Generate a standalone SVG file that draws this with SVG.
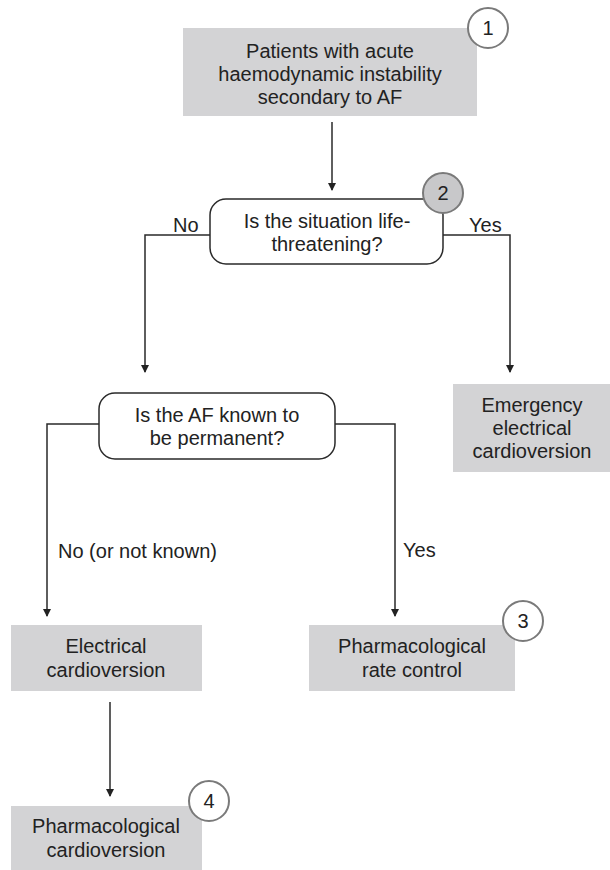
<svg xmlns="http://www.w3.org/2000/svg" width="610" height="870" viewBox="0 0 610 870">
<style>
.box{fill:#d3d3d5;stroke:none}
.dec{fill:#ffffff;stroke:#2a2a2a;stroke-width:1.5}
.t{font-family:"Liberation Sans",Arial,sans-serif;font-size:20px;fill:#222;text-anchor:middle}
.lbl{font-family:"Liberation Sans",Arial,sans-serif;font-size:20px;fill:#222}
.num{fill:#ffffff;stroke:#7a7a7a;stroke-width:2}
.numg{fill:#c8c8ca;stroke:#7a7a7a;stroke-width:2}
.c{fill:none;stroke:#2a2a2a;stroke-width:1.5}
</style>
<defs>
<marker id="ah" markerWidth="8" markerHeight="12" refX="7" refY="4" orient="auto" markerUnits="userSpaceOnUse" viewBox="0 0 8 8">
<path d="M0,0 L8,4 L0,8 z" fill="#222"/>
</marker>
</defs>
<rect width="610" height="870" fill="#ffffff"/>
<g id="connectors">
<path class="c" d="M332,122 V190" marker-end="url(#ah)"/>
<path class="c" d="M210,235 H145 V372" marker-end="url(#ah)"/>
<path class="c" d="M443,235 H510 V372" marker-end="url(#ah)"/>
<path class="c" d="M99,424 H47 V616" marker-end="url(#ah)"/>
<path class="c" d="M335,424 H395 V616" marker-end="url(#ah)"/>
<path class="c" d="M110,702 V796" marker-end="url(#ah)"/>
<text class="lbl" x="173" y="232">No</text>
<text class="lbl" x="469" y="232">Yes</text>
<text class="lbl" x="58" y="558">No (or not known)</text>
<text class="lbl" x="403" y="557">Yes</text>
</g>
<g id="n1">
<rect class="box" x="183" y="28" width="294" height="88"/>
<text class="t" x="330" y="58">Patients with acute</text>
<text class="t" x="330" y="81">haemodynamic instability</text>
<text class="t" x="330" y="104">secondary to AF</text>
<circle class="num" cx="488" cy="28" r="20"/>
<text class="t" x="488" y="35">1</text>
</g>
<g id="n2">
<rect class="dec" x="210" y="199" width="233" height="65" rx="16"/>
<text class="t" x="327" y="228">Is the situation life-</text>
<text class="t" x="327" y="251">threatening?</text>
<circle class="numg" cx="443" cy="193" r="20"/>
<text class="t" x="443" y="200">2</text>
</g>
<g id="n3">
<rect class="box" x="453" y="384" width="157" height="88"/>
<text class="t" x="532" y="412">Emergency</text>
<text class="t" x="532" y="435">electrical</text>
<text class="t" x="532" y="458">cardioversion</text>
</g>
<g id="n4">
<rect class="dec" x="99" y="393" width="236" height="66" rx="16"/>
<text class="t" x="217" y="422">Is the AF known to</text>
<text class="t" x="217" y="445">be permanent?</text>
</g>
<g id="n5">
<rect class="box" x="11" y="625" width="191" height="66"/>
<text class="t" x="106" y="653">Electrical</text>
<text class="t" x="106" y="677">cardioversion</text>
</g>
<g id="n6">
<rect class="box" x="309" y="625" width="206" height="66"/>
<text class="t" x="412" y="653">Pharmacological</text>
<text class="t" x="412" y="677">rate control</text>
<circle class="num" cx="523" cy="621" r="20"/>
<text class="t" x="523" y="628">3</text>
</g>
<g id="n7">
<rect class="box" x="11" y="806" width="191" height="64"/>
<text class="t" x="106" y="833">Pharmacological</text>
<text class="t" x="106" y="857">cardioversion</text>
<circle class="num" cx="209" cy="801" r="20"/>
<text class="t" x="209" y="808">4</text>
</g>
</svg>
